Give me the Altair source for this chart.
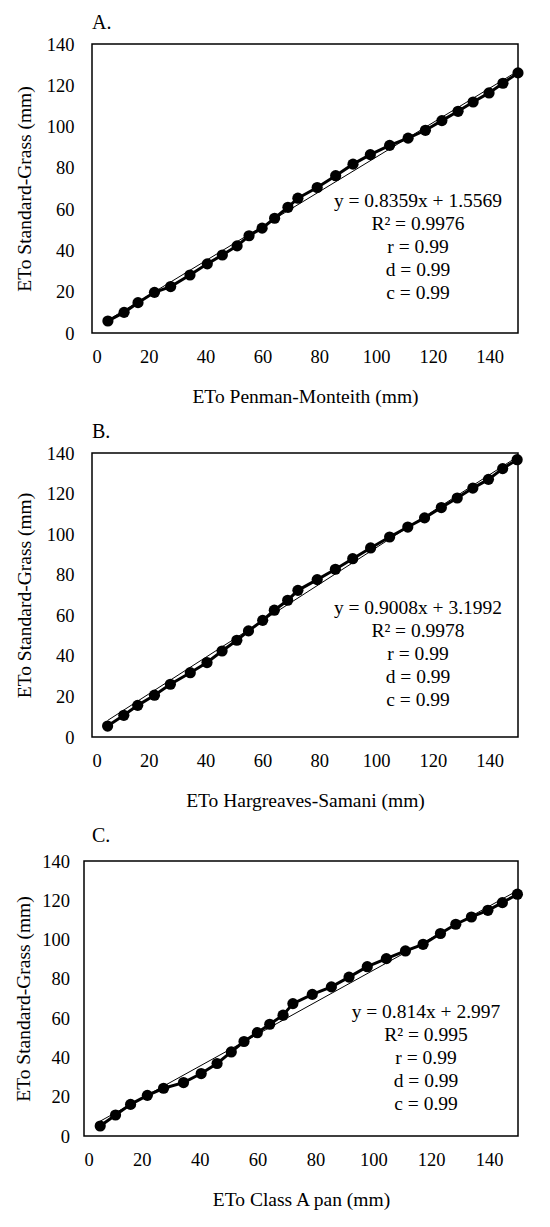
import altair as alt
import pandas as pd

FONT = "Liberation Serif"

# ---- data ----
x_A = [5.6, 11.3, 16.2, 22.0, 27.7, 34.5, 40.6, 45.9, 51.1, 55.3, 59.9, 64.3, 69.0, 72.5,
       79.3, 85.8, 91.9, 98.0, 104.8, 111.3, 117.4, 123.2, 128.9, 134.2, 139.8, 144.7, 150.0]
y_A = [5.8, 10.0, 14.7, 19.7, 22.5, 28.1, 33.5, 37.8, 42.2, 47.1, 50.8, 55.6, 60.9, 65.3,
       70.5, 76.2, 81.8, 86.4, 90.9, 94.4, 98.2, 102.9, 107.4, 111.9, 116.3, 121.0, 126.0]

x_B = [5.5, 11.2, 16.1, 22.0, 27.6, 34.6, 40.5, 45.8, 51.0, 55.1, 60.1, 64.2, 68.9, 72.5,
       79.3, 85.7, 91.8, 98.1, 104.8, 111.2, 117.1, 123.0, 128.6, 134.1, 139.6, 144.6, 149.7]
y_B = [5.4, 10.7, 15.6, 20.6, 26.0, 31.7, 36.7, 42.4, 47.7, 52.3, 57.5, 62.5, 67.4, 72.3,
       77.6, 82.7, 87.9, 93.2, 98.6, 103.5, 108.0, 113.1, 117.8, 122.7, 127.0, 132.3, 136.7]

x_C = [5.6, 10.9, 16.1, 21.9, 27.5, 34.4, 40.5, 46.0, 50.9, 55.3, 59.9, 64.2, 68.8, 72.2,
       78.9, 85.5, 91.6, 97.9, 104.5, 111.1, 117.2, 123.2, 128.5, 133.9, 139.6, 144.6, 149.8]
y_C = [5.1, 10.7, 16.1, 20.7, 24.3, 27.2, 31.8, 36.9, 42.8, 48.1, 52.6, 56.9, 61.5, 67.4,
       72.1, 75.9, 80.9, 86.2, 90.3, 94.2, 97.6, 103.1, 107.8, 111.5, 114.9, 118.8, 123.1]

panel_labels = ["A.", "B.", "C."]
x_titles = ["ETo Penman-Monteith (mm)", "ETo Hargreaves-Samani (mm)", "ETo Class A pan (mm)"]
y_title = "ETo Standard-Grass (mm)"
slopes = [0.8359, 0.9008, 0.814]
intercepts = [1.5569, 3.1992, 2.997]
stats_text = [
    ["y = 0.8359x + 1.5569", "R² = 0.9976", "r = 0.99", "d = 0.99", "c = 0.99"],
    ["y = 0.9008x + 3.1992", "R² = 0.9978", "r = 0.99", "d = 0.99", "c = 0.99"],
    ["y = 0.814x + 2.997", "R² = 0.995", "r = 0.99", "d = 0.99", "c = 0.99"],
]
x_ticks = [0, 20, 40, 60, 80, 100, 120, 140]
y_ticks = [0, 20, 40, 60, 80, 100, 120, 140]

# ---- layout per panel ----
W = 434
heights = [289, 284, 275]
frame_left = [8, 8, 0]          # frame inset inside the shared plot origin
ann_pos = [(334, 163), (334, 161), (342, 157)]
ylab_pad = [10, 10, 14.5]
ytitle_pad = [12, 12, 8]
title_offset = [2, 2, 6]


def panel(i, xs, ys):
    df = pd.DataFrame({"x": xs, "y": ys})
    x0, x1 = min(xs), max(xs)
    trend = pd.DataFrame({"x": [x0, x1],
                          "y": [slopes[i] * x0 + intercepts[i], slopes[i] * x1 + intercepts[i]]})
    h = heights[i]
    fl = frame_left[i]
    xs_ = alt.Scale(domain=[0, 150], nice=False, zero=False, range=[fl, W])
    ys_ = alt.Scale(domain=[0, 140], nice=False, zero=False)
    xenc = alt.X("x:Q", scale=xs_, axis=alt.Axis(values=x_ticks, title=x_titles[i],
                                                  labelOverlap=False,
                                                  labelPadding=14, titlePadding=22))
    yenc = alt.Y("y:Q", scale=ys_, axis=alt.Axis(values=y_ticks, title=y_title,
                                                  labelOverlap=False,
                                                  labelPadding=ylab_pad[i],
                                                  titlePadding=ytitle_pad[i]))
    frame = alt.Chart(pd.DataFrame({"f": [0]})).mark_rect(
        filled=False, stroke="black", strokeWidth=1.5
    ).encode(x=alt.value(fl), x2=alt.value(W), y=alt.value(0), y2=alt.value(h))
    line = alt.Chart(df).mark_line(color="black", strokeWidth=3).encode(x=xenc, y=yenc)
    tl = alt.Chart(trend).mark_line(color="black", strokeWidth=1).encode(x=xenc, y=yenc)
    pts = alt.Chart(df).mark_circle(color="black", opacity=1, size=125).encode(x=xenc, y=yenc)
    ax, ay = ann_pos[i]
    ann = alt.Chart(pd.DataFrame({"t": [stats_text[i]]})).mark_text(
        font=FONT, fontSize=19.5, align="center", baseline="alphabetic",
        lineHeight=23, color="black"
    ).encode(text="t", x=alt.value(ax), y=alt.value(ay))
    return alt.layer(frame, line, tl, pts, ann).properties(
        width=W, height=h,
        title=alt.TitleParams(panel_labels[i], anchor="start", frame="group", fontSize=20,
                              font=FONT, fontWeight="normal", color="black",
                              offset=title_offset[i], dx=8),
    )


chart = alt.concat(
    panel(0, x_A, y_A), panel(1, x_B, y_B), panel(2, x_C, y_C), columns=1, spacing=14
).properties(align="none", padding={"left": 5, "top": 4, "right": 5, "bottom": 5}).configure_view(
    stroke="transparent"
).configure_axis(
    grid=False, ticks=False, domain=False, labelFont=FONT, titleFont=FONT,
    labelFontSize=18.5, titleFontSize=19.5, titleFontWeight="normal",
    labelColor="black", titleColor="black", labelOverlap=False
)

chart.save("out.html", embed_options={"renderer": "svg", "actions": False})
